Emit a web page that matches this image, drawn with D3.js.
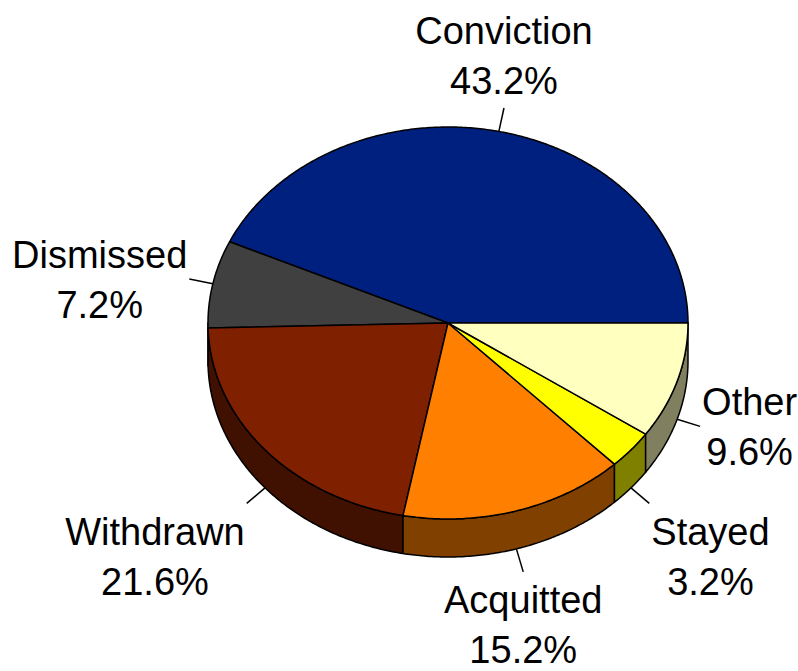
<!DOCTYPE html>
<html>
<head>
<meta charset="utf-8">
<script src="https://cdn.jsdelivr.net/npm/d3@7"></script>
<style>
  body { margin: 0; background: #fff; }
  text { font-family: "Liberation Sans", Arial, Helvetica, sans-serif; fill: #000; }
</style>
</head>
<body>
<svg id="chart" width="798" height="671"></svg>
<script>
// data
const categories = ['Conviction', 'Dismissed', 'Withdrawn', 'Acquitted', 'Stayed', 'Other'];
const shares = [43.2, 7.2, 21.6, 15.2, 3.2, 9.6];
const colors = ['#00207f', '#404040', '#7f2000', '#ff8000', '#ffff00', '#ffffc0'];

const width = 798, height = 671;
const cx = 448, cy = 323;
const rx = 240, ry = 196;
const depth = 38;
const leader = 24;
const fontSize = 38;
const lineGap = 50;

const svg = d3.select('#chart');

// d3 pie angles run clockwise from 12 o'clock, turn them into screen angles
// going counter-clockwise from 3 o'clock like the original
const pie = d3.pie().sort(null).value(d => d.value)
    .startAngle(Math.PI / 2).endAngle(Math.PI / 2 - 2 * Math.PI);

const slices = pie(categories.map((c, i) => ({ name: c, value: shares[i], color: colors[i] })))
    .map(d => ({ ...d.data, t0: Math.PI / 2 - d.startAngle, t1: Math.PI / 2 - d.endAngle }));

const pt = (t, dy = 0) => [cx + rx * Math.cos(t), cy - ry * Math.sin(t) + dy];

function arcPoints(a, b, dy = 0) {
    const n = Math.max(2, Math.ceil(Math.abs(b - a) / 0.01));
    return d3.range(n + 1).map(i => pt(a + (b - a) * i / n, dy));
}

const line = d3.line();
const half = c => { const k = d3.rgb(c); return d3.rgb(k.r / 2, k.g / 2, k.b / 2); };

// side walls (only the front half, angles pi..2pi, is visible)
const sideG = svg.append('g');
for (let s of slices) {
    const a = Math.max(s.t0, Math.PI), b = Math.min(s.t1, 2 * Math.PI);
    if (b <= a) continue;
    const pts = arcPoints(a, b).concat(arcPoints(b, a, depth));
    sideG.append('path')
        .attr('d', line(pts) + 'Z')
        .attr('fill', half(s.color))
        .attr('stroke', '#000')
        .attr('stroke-width', 1.5)
        .attr('stroke-linejoin', 'round');
}

// top faces
const topG = svg.append('g');
for (let s of slices) {
    const pts = [[cx, cy]].concat(arcPoints(s.t0, s.t1));
    topG.append('path')
        .attr('d', line(pts) + 'Z')
        .attr('fill', s.color)
        .attr('stroke', '#000')
        .attr('stroke-width', 1.5)
        .attr('stroke-linejoin', 'round');
}

// leader lines and labels
const labelG = svg.append('g');
for (let s of slices) {
    const m = (s.t0 + s.t1) / 2;
    const c = Math.cos(m), sn = Math.sin(m);
    const dy = sn < 0 ? depth : 0;
    const p0 = [cx + rx * c, cy - ry * sn + dy];
    const p1 = [cx + (rx + leader) * c, cy - (ry + leader) * sn + dy];
    labelG.append('line')
        .attr('x1', p0[0]).attr('y1', p0[1])
        .attr('x2', p1[0]).attr('y2', p1[1])
        .attr('stroke', '#000').attr('stroke-width', 1.5);

    const g = labelG.append('g');
    const t1 = g.append('text').attr('text-anchor', 'middle')
        .attr('font-size', fontSize).attr('y', 0).text(s.name);
    const t2 = g.append('text').attr('text-anchor', 'middle')
        .attr('font-size', fontSize).attr('y', lineGap).text(s.value.toFixed(1) + '%');
    const w = Math.max(t1.node().getComputedTextLength(), t2.node().getComputedTextLength());
    const capH = fontSize * 0.72;
    const h = lineGap + capH;
    // box centre sits next to the leader end, pushed out along the dominant direction(s)
    let ox = Math.abs(c) > 0.5 ? Math.sign(c) * (w / 2 + 2) : 0;
    let oy = Math.abs(sn) > 0.5 ? -Math.sign(sn) * (h / 2 + 14) : 0;
    const bx = p1[0] + ox, by = p1[1] + oy;
    g.attr('transform', `translate(${bx},${by - h / 2 + capH})`);
}
</script>
</body>
</html>
